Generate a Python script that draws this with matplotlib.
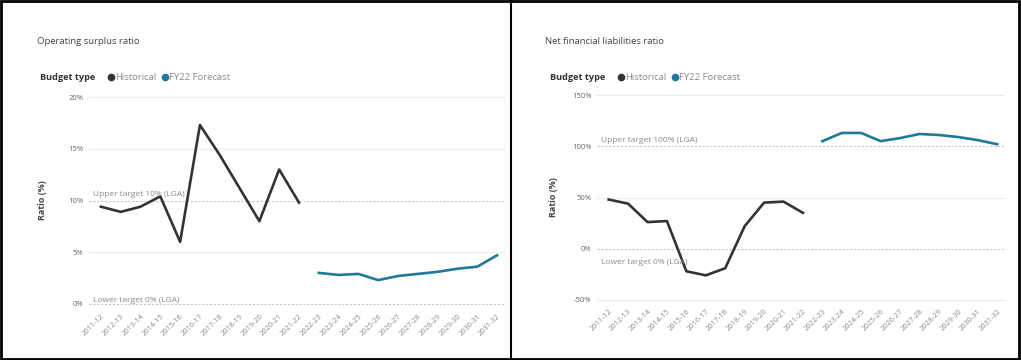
import matplotlib.pyplot as plt
from matplotlib.lines import Line2D
from matplotlib.patches import Rectangle

plt.rcParams['font.family'] = ['Open Sans', 'DejaVu Sans']

# Datos
years = ['2011-12', '2012-13', '2013-14', '2014-15', '2015-16', '2016-17',
         '2017-18', '2018-19', '2019-20', '2020-21', '2021-22', '2022-23',
         '2023-24', '2024-25', '2025-26', '2026-27', '2027-28', '2028-29',
         '2029-30', '2030-31', '2031-32']
n_hist = 11

surplus_hist = [9.4, 8.9, 9.4, 10.4, 6.0, 17.3, 14.4, 11.2, 8.0, 13.0, 9.8]
surplus_fcst = [3.0, 2.8, 2.9, 2.3, 2.7, 2.9, 3.1, 3.4, 3.6, 4.7]

nfl_hist = [48, 44, 26, 27, -22, -26, -19, 22, 45, 46, 35]
nfl_fcst = [105, 113, 113, 105, 108, 112, 111, 109, 106, 102]

C_HIST = '#333333'
C_FCST = '#1f7a99'
GRID = '#ececec'
TXT = '#666666'

fig = plt.figure(figsize=(10.21, 3.6), dpi=100)
W, H = 1021, 360


def px(x0, y0, x1, y1):
    # convierte caja en pixeles a coordenadas de figura
    return [x0 / W, 1 - y1 / H, (x1 - x0) / W, (y1 - y0) / H]


def panel(rect, hist, fcst, ticks, ticklabels, ylim, upper, lower,
          up_lbl, low_lbl, low_below, title, tx, lx, ylab_x):
    ax = fig.add_axes(rect)
    xs = list(range(len(years)))
    for t in ticks:
        if t not in (upper, lower):
            ax.axhline(t, color=GRID, lw=0.8, zorder=0)
    for t in (upper, lower):
        ax.axhline(t, color='#c8c8c8', lw=0.8, ls=(0, (2, 1.5)), zorder=0)
    ax.plot(xs[:n_hist], hist, color=C_HIST, lw=1.9, zorder=3)
    ax.plot(xs[n_hist:], fcst, color=C_FCST, lw=1.9, zorder=3)
    span = ylim[1] - ylim[0]
    ax.text(-0.4, upper + span * 0.012, up_lbl, fontsize=6, color='#8a8a8a',
            va='bottom', ha='left')
    if low_below:
        ax.text(-0.4, lower - span * 0.05, low_lbl, fontsize=6,
                color='#8a8a8a', va='top', ha='left')
    else:
        ax.text(-0.4, lower - span * 0.002, low_lbl, fontsize=6,
                color='#8a8a8a', va='bottom', ha='left')
    ax.set_xlim(-0.6, 20.4)
    ax.set_ylim(*ylim)
    ax.set_yticks(ticks)
    ax.set_yticklabels(ticklabels, fontsize=5.5, color=TXT)
    ax.set_xticks(xs)
    ax.set_xticklabels(years, rotation=45, ha='right', rotation_mode='anchor',
                       fontsize=5.3, color='#8a8a8a')
    ax.tick_params(length=0, pad=4)
    for s in ax.spines.values():
        s.set_visible(False)
    ax.set_ylabel('Ratio (%)', fontsize=6.5, color='#444444', fontweight='bold')
    ax.yaxis.set_label_coords(ylab_x, 0.5)
    fig.text(tx / W, 1 - 42 / H, title, fontsize=6.8, color='#444444',
             va='center')
    fig.text(lx / W, 1 - 78 / H, 'Budget type', fontsize=6.6,
             color='#333333', fontweight='bold', va='center')
    handles = [Line2D([], [], ls='', marker='o', ms=4.5, color=C_HIST),
               Line2D([], [], ls='', marker='o', ms=4.5, color=C_FCST)]
    fig.legend(handles, ['Historical', 'FY22 Forecast'], ncol=2,
               loc='center left', bbox_to_anchor=((lx + 67) / W, 1 - 78 / H),
               frameon=False, fontsize=6.8, labelcolor='#8a8a8a',
               handletextpad=0.05, columnspacing=0.5, handlelength=0.8,
               borderpad=0, borderaxespad=0)
    return ax


panel(px(89, 94, 505, 307), surplus_hist, surplus_fcst,
      [0, 5, 10, 15, 20], ['0%', '5%', '10%', '15%', '20%'], (-0.3, 20.3),
      10, 0, 'Upper target 10% (LGA)', 'Lower target 0% (LGA)', False,
      'Operating surplus ratio', 37, 40, -0.1)

panel(px(597, 93, 1005, 302), nfl_hist, nfl_fcst,
      [-50, 0, 50, 100, 150], ['-50%', '0%', '50%', '100%', '150%'],
      (-52, 152), 100, 0, 'Upper target 100% (LGA)', 'Lower target 0% (LGA)',
      True, 'Net financial liabilities ratio', 545, 550, -0.095)

# marco negro y separador
fig.add_artist(Rectangle((0.001, 0.002), 0.997, 0.995, transform=fig.transFigure,
                         fill=False, ec='black', lw=2))
fig.add_artist(Line2D([511 / W, 511 / W], [0, 1], transform=fig.transFigure,
                      color='black', lw=1.5))

fig.savefig('out.png', dpi=100)
plt.close(fig)
